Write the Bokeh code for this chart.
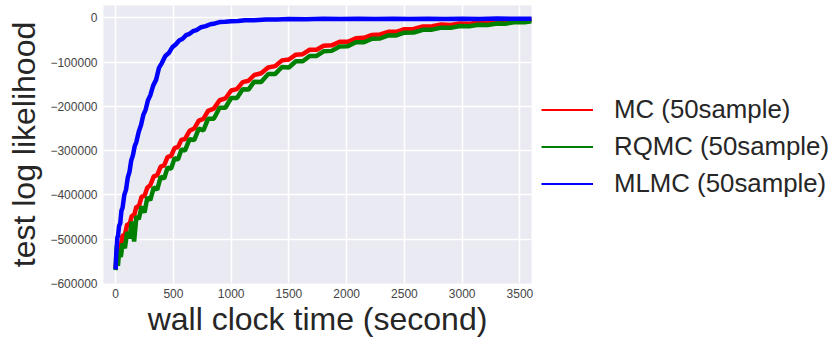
from bokeh.plotting import figure
from bokeh.models import Range1d, FixedTicker, Legend, LegendItem
from bokeh.embed import file_html
from bokeh.resources import INLINE

# ---- data ----
T_MC = [0, 10, 20, 30, 45, 60, 80, 100, 120, 140,
        160, 180, 200, 225, 250, 275, 300, 330, 360, 390,
        420, 450, 480, 510, 540, 570, 600, 640, 680, 720,
        760, 800, 850, 900, 950, 1000, 1050, 1100, 1150, 1200,
        1260, 1320, 1380, 1440, 1500, 1560, 1620, 1680, 1740, 1800,
        1870, 1940, 2010, 2080, 2150, 2220, 2290, 2360, 2430, 2500,
        2580, 2660, 2740, 2820, 2900, 2980, 3060, 3140, 3220, 3300,
        3380, 3460, 3540, 3610]

MC = [-566000, -540000, -542000, -518000, -516000, -492000, -490000, -466000, -467000, -447000,
      -446000, -426000, -427000, -404000, -402000, -383000, -378000, -358000, -355000, -336000,
      -333000, -314000, -312000, -294000, -292000, -275000, -274000, -255000, -250000, -232000,
      -228000, -210000, -205000, -186000, -182000, -164000, -161000, -145000, -142000, -129000,
      -125000, -112000, -109000, -96000, -94000, -83000, -82000, -72000, -72000, -63000,
      -62000, -54000, -54000, -46000, -45000, -38500, -37500, -31500, -31500, -25500,
      -25000, -19500, -19000, -15000, -16000, -12500, -13500, -10000, -11000, -8000,
      -8500, -5800, -6200, -4000]

RQMC = [-570000, -515000, -560000, -530000, -540000, -510000, -520000, -484000, -498000, -460000,
        -505000, -448000, -455000, -426000, -440000, -405000, -412000, -383000, -388000, -359000,
        -363000, -338000, -341000, -317000, -320000, -297000, -300000, -274000, -276000, -250000,
        -254000, -228000, -228000, -203000, -203000, -181000, -181000, -161000, -162000, -144000,
        -145000, -127000, -127000, -111000, -112000, -98000, -98000, -86000, -86000, -75500,
        -74500, -64500, -64000, -55000, -55000, -47000, -46500, -39500, -39500, -33500,
        -33000, -27000, -26500, -22000, -22500, -18500, -19000, -15500, -16000, -12500,
        -13000, -9500, -10000, -7000]

T_MLMC = [0, 5, 10, 15, 20, 30, 40, 50, 60, 75,
          90, 105, 120, 135, 150, 165, 180, 200, 220, 240,
          260, 280, 300, 325, 350, 375, 400, 430, 460, 490,
          520, 550, 580, 610, 640, 670, 700, 740, 780, 820,
          860, 900, 950, 1000, 1060, 1120, 1200, 1300, 1400, 1500,
          1650, 1800, 1950, 2100, 2250, 2400, 2550, 2700, 2850, 3000,
          3150, 3300, 3450, 3610]

MLMC = [-568000, -535000, -518000, -496000, -493000, -470000, -464000, -436000, -429000, -400000,
        -388000, -361000, -348000, -322000, -310000, -290000, -280000, -257000, -242000, -219000,
        -207000, -186000, -175000, -153000, -140000, -113000, -102000, -86000, -79500, -66500,
        -60000, -51000, -47000, -39000, -36000, -30000, -27500, -21000, -18500, -14300,
        -12500, -9500, -8800, -7400, -7000, -5400, -5100, -3600, -3500, -2500,
        -2800, -2000, -2700, -1900, -2600, -1800, -2500, -1700, -2400, -1700,
        -2300, -1600, -2200, -1700]

SERIES_NAMES = ["MC (50sample)", "RQMC (50sample)", "MLMC (50sample)"]
SERIES_COLORS = ["#FF0000", "#008000", "#0000FF"]

X_TICKS = [0, 500, 1000, 1500, 2000, 2500, 3000, 3500]
Y_TICKS = [0, -100000, -200000, -300000, -400000, -500000, -600000]
Y_TICK_LABELS = ["0", "\u2212100000", "\u2212200000", "\u2212300000",
                 "\u2212400000", "\u2212500000", "\u2212600000"]

FONT = "Liberation Sans"

p = figure(frame_width=428, frame_height=278,
           x_range=Range1d(-105, 3600), y_range=Range1d(-600000, 28000),
           output_backend="svg", toolbar_location=None,
           min_border_left=103, min_border_right=300,
           min_border_top=5, min_border_bottom=54)

p.background_fill_color = "#EAEAF2"
p.border_fill_color = "white"
p.outline_line_color = None

for g in (p.xgrid, p.ygrid):
    g.grid_line_color = "white"
    g.grid_line_width = 1.5

p.xaxis.ticker = FixedTicker(ticks=X_TICKS)
p.yaxis.ticker = FixedTicker(ticks=Y_TICKS)
p.yaxis.major_label_overrides = {t: s for t, s in zip(Y_TICKS, Y_TICK_LABELS)}
p.xaxis.major_label_overrides = {t: str(t) for t in X_TICKS}

for ax in (p.xaxis, p.yaxis):
    ax.axis_line_color = None
    ax.major_tick_line_color = None
    ax.minor_tick_line_color = None
    ax.major_tick_out = 0
    ax.major_tick_in = 0
    ax.major_label_text_font = FONT
    ax.major_label_text_font_size = "12px"
    ax.major_label_text_color = "#444444"
    ax.axis_label_text_font = FONT
    ax.axis_label_text_font_size = "32px"
    ax.axis_label_text_font_style = "normal"
    ax.axis_label_text_color = "#262626"

p.xaxis.axis_label = "wall clock time (second)"
p.yaxis.axis_label = "test log likelihood"
p.xaxis.major_label_standoff = 5
p.yaxis.major_label_standoff = 6
p.xaxis.axis_label_standoff = 0
p.yaxis.axis_label_standoff = 5

p.line(T_MC, MC, line_color=SERIES_COLORS[0], line_width=4.5)
p.line(T_MC, RQMC, line_color=SERIES_COLORS[1], line_width=4.5)
p.line(T_MLMC, MLMC, line_color=SERIES_COLORS[2], line_width=4.5)

# thin stand-in renderers for the legend swatches, kept outside the visible y range
HIDDEN_X = [0, 1]
HIDDEN_Y = [1e9, 1e9]
leg_r = [p.line(HIDDEN_X, HIDDEN_Y, line_color=c, line_width=2) for c in SERIES_COLORS]

legend = Legend(items=[LegendItem(label=n, renderers=[r]) for n, r in zip(SERIES_NAMES, leg_r)],
                location=(10, 81))
legend.border_line_color = None
legend.background_fill_alpha = 0
legend.padding = 0
legend.margin = 0
legend.spacing = 0
legend.glyph_width = 52
legend.glyph_height = 37
legend.label_height = 37
legend.label_standoff = 21
legend.label_text_font = FONT
legend.label_text_font_size = "25.8px"
legend.label_text_color = "#262626"
p.add_layout(legend, "right")

open("out.html", "w").write(file_html(p, INLINE))
